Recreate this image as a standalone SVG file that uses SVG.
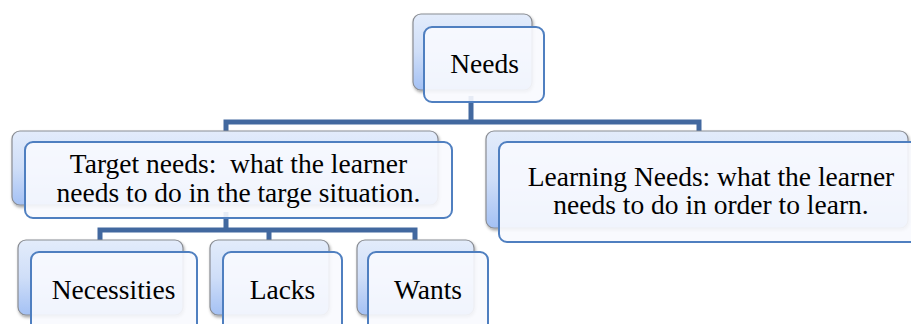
<svg xmlns="http://www.w3.org/2000/svg" width="911" height="324" viewBox="0 0 911 324">
  <style>
    .back { fill: url(#backFill); stroke: #8a8d93; stroke-width: 1.2; filter: url(#shadow); }
    .front { fill: #f8fafe; fill-opacity: 0.9; stroke: #4f7fc0; stroke-width: 2; }
    .link { fill: none; stroke: #42689f; stroke-width: 5; stroke-linejoin: miter; }
    text { font-family: 'Liberation Serif', Tinos, 'Times New Roman', 'DejaVu Serif', serif; font-size: 27.5px; fill: #000; text-anchor: middle; white-space: pre; }
  </style>
  <defs>
    <linearGradient id="backFill" x1="0" y1="0" x2="0" y2="1">
      <stop offset="0" stop-color="#e3ecfb"/>
      <stop offset="0.5" stop-color="#cfdef8"/>
      <stop offset="1" stop-color="#a4c1f4"/>
    </linearGradient>
    <filter id="shadow" x="-10%" y="-10%" width="120%" height="130%">
      <feDropShadow dx="1" dy="2" stdDeviation="1.6" flood-color="#000" flood-opacity="0.35"/>
    </filter>
  </defs>

  <!-- connectors, drawn first so the translucent cards sit over them -->
  <g id="connectors">
    <path class="link" d="M471,96 V122 H226 V132 M471,122 H699 V132"/>
    <path class="link" d="M226,212 V230 H100 V241 M226,230 H415 V241 M269,230 V241"/>
  </g>

  <g id="needs">
    <rect class="back" x="413" y="14" width="119" height="76" rx="8"/>
    <rect class="front" x="424" y="27" width="120" height="75" rx="8"/>
    <text x="484.5" y="73" font-family="Liberation Serif, serif">Needs</text>
  </g>

  <g id="target-needs">
    <rect class="back" x="12" y="131" width="426" height="74" rx="8"/>
    <rect class="front" x="25" y="142" width="427" height="76" rx="8"/>
    <text x="238.5" y="173" font-family="Liberation Serif, serif" xml:space="preserve">Target needs:  what the learner</text>
    <text x="238.5" y="202" font-family="Liberation Serif, serif">needs to do in the targe situation.</text>
  </g>

  <g id="learning-needs">
    <rect class="back" x="486" y="131" width="422" height="97" rx="8"/>
    <rect class="front" x="499" y="142" width="424" height="100" rx="8"/>
    <text x="711" y="186" font-family="Liberation Serif, serif">Learning Needs: what the learner</text>
    <text x="711" y="214" font-family="Liberation Serif, serif">needs to do in order to learn.</text>
  </g>

  <g id="necessities">
    <rect class="back" x="18" y="240" width="165" height="75" rx="8"/>
    <rect class="front" x="31" y="252" width="166" height="84" rx="8"/>
    <text x="113.5" y="299" font-family="Liberation Serif, serif">Necessities</text>
  </g>

  <g id="lacks">
    <rect class="back" x="210" y="240" width="119" height="75" rx="8"/>
    <rect class="front" x="223" y="252" width="119" height="84" rx="8"/>
    <text x="282.5" y="299" font-family="Liberation Serif, serif">Lacks</text>
  </g>

  <g id="wants">
    <rect class="back" x="357" y="240" width="117" height="75" rx="8"/>
    <rect class="front" x="368" y="252" width="120" height="84" rx="8"/>
    <text x="428" y="299" font-family="Liberation Serif, serif">Wants</text>
  </g>
</svg>
